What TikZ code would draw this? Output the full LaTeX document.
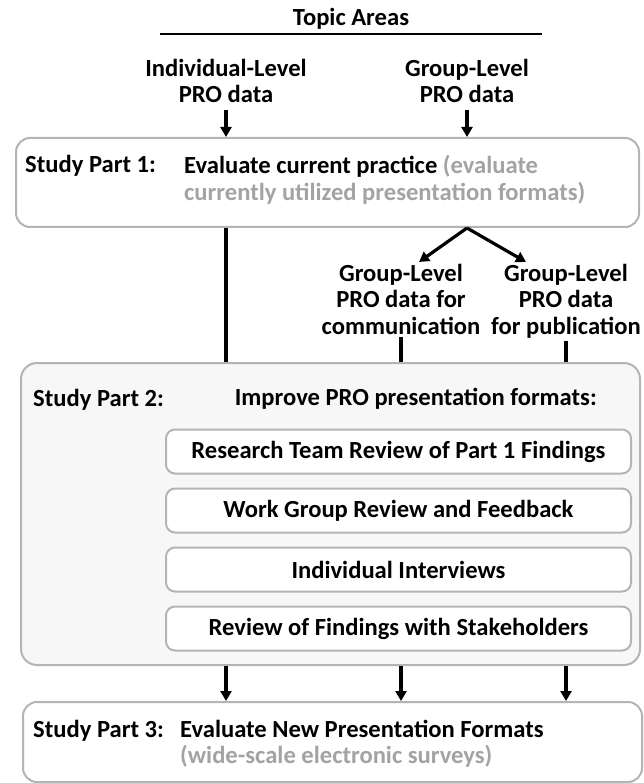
\documentclass[tikz,border=0pt]{standalone}
\usepackage{fontspec}
\setmainfont{Carlito}
\usetikzlibrary{arrows.meta}
\definecolor{boxline}{HTML}{B4B4B4}
\definecolor{softgray}{HTML}{A3A3A3}
\definecolor{panelfill}{HTML}{F7F7F7}
\newcommand{\Aside}[1]{\textcolor{softgray}{#1}}

\begin{document}
\begin{tikzpicture}[x=1pt,y=-1pt,
  font=\bfseries\fontsize{24.6}{26.5}\selectfont,
  every node/.style={inner sep=2pt},
  phase/.style={draw=boxline,line width=2pt,rounded corners=14pt,fill=white},
  stepbox/.style={draw=boxline,line width=2pt,rounded corners=9pt,fill=white,minimum width=465pt,minimum height=44pt},
  link/.style={line width=3.5pt},
  arr/.style={line width=3.2pt,-{Triangle[width=11pt,length=10pt]}}]
\useasboundingbox (0,0) rectangle (644,783);

\node[phase,minimum width=623pt,minimum height=89pt] (part1) at (327.5,182.5) {};
\node[phase,fill=panelfill,rounded corners=16pt,minimum width=619pt,minimum height=302pt] (part2) at (330.5,514) {};
\node[phase,minimum width=619pt,minimum height=80pt] (part3) at (332.5,742) {};

\foreach \i/\t in {1/Research Team Review of Part 1 Findings,2/Work Group Review and Feedback,3/Individual Interviews,4/Review of Findings with Stakeholders}
  \node[stepbox] (step-\i) at (398.5,{392.5+59*\i}) {\t};

\node (topic) at (351,19) {Topic Areas};
\draw[line width=2.5pt] (160,34) -- (542,34);
\node[align=center] (indiv) at (226,81) {Individual-Level\\PRO data};
\node[align=center] (grp) at (467,81) {Group-Level\\PRO data};

\node[anchor=west] (lab1) at (23,166) {Study Part 1:};
\node[anchor=west,align=left] (task1) at (182,180) {Evaluate current practice \Aside{(evaluate}\\\Aside{currently utilized presentation formats)}};

\node[anchor=north,align=center] (comm) at (401,262) {Group-Level\\PRO data for\\communication};
\node[anchor=north,align=center] (pub) at (566,262) {Group-Level\\PRO data\\for publication};

\node[anchor=west] (lab2) at (31,400) {Study Part 2:};
\node[anchor=east] (task2) at (599,399) {Improve PRO presentation formats:};

\node[anchor=west] (lab3) at (31,731) {Study Part 3:};
\node[anchor=west,align=left] (task3) at (178,744) {Evaluate New Presentation Formats\\\Aside{(wide-scale electronic surveys)}};

\draw[arr] ([yshift=-5pt]indiv.south) -- (indiv.south |- part1.north);
\draw[arr] ([yshift=-5pt]grp.south) -- (grp.south |- part1.north);
\draw[link] (part1.south -| indiv) -- (part2.north -| indiv);
\draw[arr] (part1.south -| grp) -- ([xshift=18pt]comm.north);
\draw[arr] (part1.south -| grp) -- ([xshift=-40pt]pub.north);
\draw[link] (comm.south) -- (comm.south |- part2.north);
\draw[link] (pub.south) -- (pub.south |- part2.north);
\foreach \n in {indiv,comm,pub}
  \draw[arr] (part2.south -| \n) -- (part3.north -| \n);
\end{tikzpicture}
\end{document}
